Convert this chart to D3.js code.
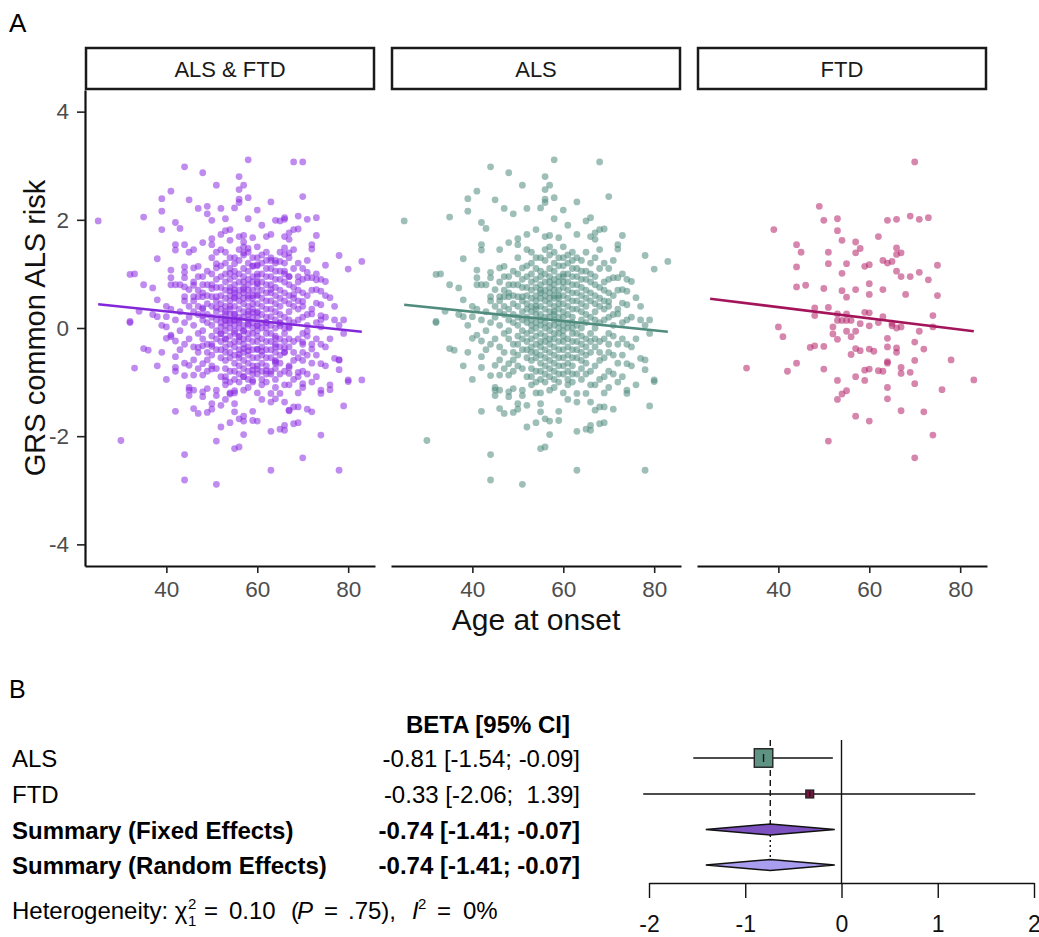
<!DOCTYPE html>
<html>
<head>
<meta charset="utf-8">
<script src="https://cdn.jsdelivr.net/npm/d3@7"></script>
<style>
body { margin: 0; background: #fff; }
svg text { font-family: "Liberation Sans", Arial, sans-serif; }
</style>
</head>
<body>
<svg width="1039" height="937"></svg>
<script>
// panel A: facets
const panelNames = ["ALS & FTD", "ALS", "FTD"]
const pointColors = ["#8A2BE2", "#4E8B7D", "#B5236A"]
const lineColors = ["#8228DA", "#4F8C7E", "#A3145A"]
const xTicks = [40, 60, 80]
const yTicks = [-4, -2, 0, 2, 4]
const trendAges = [25, 83]
const trendStart = [0.44, 0.43, 0.54]
const trendEnd = [-0.07, -0.07, -0.06]

// [age at onset, GRS values]
const alsColumns = [
  [25, [1.98]],
  [30, [-2.08]],
  [32, [0.99, 0.12, 0.10]],
  [33, [1.00]],
  [34, [0.31]],
  [35, [2.05, 0.80, -0.38]],
  [36, [-0.41]],
  [37, [0.74, 0.25]],
  [38, [1.28, 0.52, 0.21, -0.70]],
  [39, [2.39, 2.16, -0.45, 0.05]],
  [40, [0.21, -0.19, -0.95, 0.40]],
  [41, [2.53, 1.07, 0.93, 0.80, -0.13, 0.35]],
  [42, [1.95, 1.54, 1.44, 0.80, -0.24, -0.53, -0.73, -1.54, 0.15]],
  [43, [1.84, 0.80, 0.30, -0.05, -0.40]],
  [44, [2.98, 1.03, 0.93, 0.58, 0.50, -0.88, -2.34, -2.81, 0.10, -0.30]],
  [45, [2.37, 0.71, -0.69, -1.15, -1.25, 0.20, 0.40, -0.20, -1.10]],
  [46, [1.45, 1.11, 0.58, 0.50, -0.59, -0.87, -1.15, -1.49, 0.30, 0.05, -0.35, 0.85]],
  [47, [2.21, 1.14, 0.95, 0.58, -0.75, -1.58, 0.25, -0.10, 0.40, -0.45, 0.70]],
  [48, [2.87, 1.58, 0.95, 0.80, 0.58, -0.66, -0.87, -1.18, -1.27, 0.15, -0.20, 0.35, 0.65, -0.05]],
  [49, [2.11, 1.05, 0.80, -0.59, -1.12, -1.56, 0.45, 0.10, -0.30, 0.25, -0.80, 0.60, -0.45]],
  [50, [1.65, 1.54, 1.30, 0.80, 0.58, -0.50, -1.40, -1.50, 0.20, -0.15, 0.40, -0.70, 0.05, -0.30, 1.00]],
  [51, [2.64, 1.11, 0.58, -1.15, -1.25, -2.89, 0.30, -0.40, 0.15, 0.75, -0.05, 0.50, -0.75, 0.90, -0.20]],
  [52, [2.21, 1.73, 1.45, -1.43, -1.83, 0.95, 0.60, 0.35, 0.10, -0.25, -0.55, -0.90, 0.20, 0.45, -0.10, 0.75, -0.40, 1.15]],
  [53, [1.20, 0.85, 0.55, 0.30, 0.05, -0.20, -0.45, -0.75, -1.05, 0.70, 0.15, -0.35, 1.40, -0.60, 0.40, -0.05, 1.00, -0.90]],
  [54, [1.82, -1.75, 1.10, 0.75, 0.50, 0.25, 0.00, -0.30, -0.55, -0.80, -1.20, 0.40, 0.90, -0.15, 0.60, -1.00, 0.10, -0.45, 1.30, 0.35]],
  [55, [2.22, -2.23, -1.40, -1.55, 1.30, 0.95, 0.65, 0.40, 0.15, -0.10, -0.35, -0.65, -0.95, 0.80, 0.25, -0.50, 1.05, -1.20, 0.55, -0.25, 0.05, 0.70, -0.80]],
  [56, [2.80, 2.56, 2.38, 2.32, 1.69, -2.20, -1.68, 1.25, 0.85, 0.60, 0.35, 0.10, -0.15, -0.40, -0.70, -1.00, 0.50, 0.20, -0.25, 1.00, -0.85, 0.70, 0.00, -0.55, 1.45]],
  [57, [2.64, 1.71, -1.97, -1.72, 1.35, 1.10, 0.75, 0.45, 0.20, -0.05, -0.30, -0.60, -0.90, 0.65, 0.05, -0.45, 0.95, -1.15, 0.30, -0.20, 0.55, -0.75, 0.85, 1.50]],
  [58, [3.11, 2.41, 2.02, 1.40, 1.05, 0.80, 0.55, 0.30, 0.05, -0.20, -0.50, -0.80, -1.10, 0.70, 0.40, -0.35, 0.15, -0.65, 0.90, -0.95, 0.60, -0.10, 1.20, 0.25]],
  [59, [1.67, -1.54, -1.71, 1.30, 0.95, 0.70, 0.45, 0.20, -0.10, -0.40, -0.70, -1.00, 0.60, 0.10, -0.25, 0.85, -0.55, 1.15, 0.35, 0.00, -0.85, 0.55]],
  [60, [2.18, 1.50, 1.15, 0.85, 0.60, 0.30, 0.05, -0.25, -0.55, -0.85, -1.20, 0.45, -0.05, 0.75, -0.40, 1.00, 0.20, -0.70, 0.95, -0.15, 1.30]],
  [61, [1.90, -1.32, 1.35, 1.00, 0.70, 0.40, 0.10, -0.20, -0.50, -0.80, 0.55, -0.35, 0.25, 0.85, -0.65, -1.05, 0.00, 1.20, -0.95]],
  [62, [1.40, 1.10, 0.80, 0.50, 0.20, -0.10, -0.40, -0.70, -1.00, 0.65, 0.35, -0.25, 0.00, 0.95, -0.55, 1.25, -0.85, 0.10]],
  [63, [2.33, 1.73, -1.37, -1.21, -1.91, -2.63, 1.30, 0.95, 0.65, 0.35, 0.05, -0.25, -0.55, -0.85, 0.50, -0.40, 0.80, -0.10, 1.10]],
  [64, [1.25, 0.90, 0.60, 0.30, 0.00, -0.30, -0.60, -0.95, 0.45, -0.15, 0.75, -0.75, 1.05, -0.45, 0.15]],
  [65, [1.98, -1.21, -1.87, 1.40, 1.05, 0.70, 0.40, 0.10, -0.20, -0.50, -0.85, 0.55, -0.35, 0.90, -0.65, 0.25]],
  [66, [2.04, 1.69, -1.37, -1.89, -1.80, 1.20, 0.85, 0.50, 0.20, -0.10, -0.45, -0.80, 0.65, -0.25, 1.00, -1.05]],
  [67, [1.76, 1.64, -1.52, 1.30, 0.95, 0.60, 0.30, 0.00, -0.35, -0.70, -1.05, 0.45, 0.80, -0.20, 0.15]],
  [68, [3.07, 1.82, -1.46, -1.77, 1.45, 1.10, 0.75, 0.40, 0.10, -0.25, -0.60, -0.95, 0.55, -0.45]],
  [69, [1.83, -1.46, -1.75, 1.20, 0.85, 0.50, 0.15, -0.20, -0.55, -0.90, 0.35, 0.70, -1.20]],
  [70, [2.43, 0.65, 0.49, 0.40, 1.10, 0.20, -0.10, -0.45, -0.80, -1.10, 0.90, -0.30]],
  [71, [-1.50, 0.93, 0.60, 0.25, -0.15, -0.50, -0.85, 1.25, 0.05]],
  [72, [1.54, 1.46, 0.93, 0.35, 0.26, -0.30, -0.65, -1.00, 0.70]],
  [73, [1.71, 0.71, 0.46, -0.50, -0.90, 0.10, -0.20, 1.00]],
  [74, [0.68, 0.43, -0.66, -1.21, -1.15, 0.15, -0.30, 0.90]],
  [75, [0.86, -0.35, 0.20, -0.70]],
  [76, [0.56, -1.05, -0.20]],
  [77, [0.15, -0.56, 0.40]],
  [78, [1.34, -0.59, -0.77, -2.63, 0.05]],
  [79, [0.15, -1.44, -0.10]],
  [80, [1.09, -0.99, -0.96]],
  [83, [1.23]]
]

const ftdColumns = [
  [33, [-0.74]],
  [39, [1.82]],
  [40, [0.02]],
  [41, [-0.16]],
  [42, [-0.80]],
  [44, [1.54, 1.13, 0.76, -0.65]],
  [45, [1.40]],
  [46, [0.79]],
  [47, [-0.36]],
  [48, [0.37, 0.23, -0.33]],
  [49, [2.25]],
  [50, [1.99, 0.73, -0.34, -0.76]],
  [51, [1.40, 1.19, 0.38, -2.09]],
  [52, [0.02, -0.11]],
  [53, [2.02, 1.80, 0.26, 0.14, -0.21, -0.97, -1.32]],
  [54, [1.62, 1.01, 0.69, 0.14, -1.22]],
  [55, [1.19, 0.57, 0.26, 0.14, -0.06, -1.16]],
  [56, [0.14, -0.16, -0.49]],
  [57, [1.59, 1.39, 0.71, -0.06, -0.38, -0.90, -1.63]],
  [58, [1.47, 0.08, -0.42]],
  [59, [1.14, 0.29, -0.78, -0.97]],
  [60, [1.17, 0.82, 0.62, 0.28, 0.04, -0.39, -0.76, -1.72]],
  [61, [-0.43]],
  [62, [1.69, 0.10, -0.79]],
  [63, [1.25, 0.71, 0.21, -0.80]],
  [64, [1.99, 1.20, -0.19, -0.35, -0.62, -0.65, -1.10, -1.31]],
  [65, [1.23, 0.09, 0.04]],
  [66, [2.01, 1.48, 1.36, 1.05, 0.00, -0.37, -0.45]],
  [67, [1.39, 0.95, 0.02, -0.73, -0.84, -1.53]],
  [68, [0.62]],
  [69, [2.07, 0.95, -0.82]],
  [70, [3.07, -0.26, -0.60, -1.03, -2.40]],
  [71, [2.01, 1.03, -0.06]],
  [72, [-0.39, -1.55]],
  [73, [2.04, 0.89]],
  [74, [0.23, 0.02, -1.98]],
  [75, [1.16, 0.60]],
  [76, [-1.14]],
  [78, [-0.59]],
  [83, [-0.96]]
]

// panel B: forest plot
const studies = ["ALS", "FTD"]
const beta = [-0.81, -0.33]
const ciLow = [-1.54, -2.06]
const ciHigh = [-0.09, 1.39]
const summaryLabels = ["Summary (Fixed Effects)", "Summary (Random Effects)"]
const summaryBeta = [-0.74, -0.74]
const summaryLow = [-1.41, -1.41]
const summaryHigh = [-0.07, -0.07]
const forestTicks = [-2, -1, 0, 1, 2]
const hetChi = 0.10
const hetP = ".75"
const hetI2 = "0%"

const studyFill = ["#5E9384", "#7A1443"]
const diamondFill = ["#7D52C0", "#A99DEF"]

const svg = d3.select("svg")

const toPoints = cols => cols.flatMap(([age, vals]) => vals.map(v => ({ age: age, grs: v })))
const alsPoints = toPoints(alsColumns)
const ftdPoints = toPoints(ftdColumns)
const panelData = [alsPoints.concat(ftdPoints), alsPoints, ftdPoints]

const panelLeft = [85, 391, 697]
const panelWidth = 290
const panelTop = 90
const panelBottom = 566

const yScale = d3.scaleLinear()
    .domain([-4.4, 4.4])
    .range([panelBottom, panelTop])

const fmtTick = d => String(d)

panelNames.forEach((name, i) => {
    const x = d3.scaleLinear()
        .domain([22.1, 85.9])
        .range([panelLeft[i], panelLeft[i] + panelWidth])

    // strip
    svg.append("rect")
        .attr("x", panelLeft[i] + 1)
        .attr("y", 48)
        .attr("width", panelWidth - 2)
        .attr("height", 41)
        .attr("fill", "#fff")
        .attr("stroke", "#1a1a1a")
        .attr("stroke-width", 2.5)

    svg.append("text")
        .attr("x", panelLeft[i] + panelWidth / 2)
        .attr("y", 77)
        .attr("text-anchor", "middle")
        .attr("font-size", 22)
        .attr("fill", "#1a1a1a")
        .text(name)

    // points
    svg.append("g")
        .selectAll("circle")
        .data(panelData[i])
        .enter()
        .append("circle")
        .attr("cx", d => x(d.age))
        .attr("cy", d => yScale(d.grs))
        .attr("r", 3.4)
        .attr("fill", pointColors[i])
        .attr("fill-opacity", 0.55)

    // fitted line
    svg.append("line")
        .attr("x1", x(trendAges[0]))
        .attr("y1", yScale(trendStart[i]))
        .attr("x2", x(trendAges[1]))
        .attr("y2", yScale(trendEnd[i]))
        .attr("stroke", lineColors[i])
        .attr("stroke-width", 2.6)

    const xAxis = svg.append("g")
        .attr("transform", `translate(0, ${panelBottom})`)
        .call(d3.axisBottom(x).tickValues(xTicks).tickFormat(fmtTick).tickSize(7).tickSizeOuter(0).tickPadding(8))
    xAxis.select(".domain").attr("stroke", "#111").attr("stroke-width", 2.2)
    xAxis.selectAll(".tick line").attr("stroke", "#222").attr("stroke-width", 1.6)
    xAxis.selectAll(".tick text")
        .attr("font-size", 22.5)
        .attr("font-family", "Liberation Sans, Arial, sans-serif")
        .attr("fill", "#4d4d4d")
})

const yAxis = svg.append("g")
    .attr("transform", `translate(${panelLeft[0]}, 0)`)
    .call(d3.axisLeft(yScale).tickValues(yTicks).tickFormat(fmtTick).tickSize(8).tickSizeOuter(0).tickPadding(8))
yAxis.select(".domain").attr("stroke", "#111").attr("stroke-width", 2.2)
yAxis.selectAll(".tick line").attr("stroke", "#222").attr("stroke-width", 1.6)
yAxis.selectAll(".tick text")
    .attr("font-size", 22.5)
    .attr("font-family", "Liberation Sans, Arial, sans-serif")
    .attr("fill", "#4d4d4d")

svg.append("text")
    .attr("transform", `translate(45, ${(panelTop + panelBottom) / 2}) rotate(-90)`)
    .attr("text-anchor", "middle")
    .attr("font-size", 29)
    .attr("fill", "#111")
    .text("GRS common ALS risk")

svg.append("text")
    .attr("x", panelLeft[1] + panelWidth / 2)
    .attr("y", 630)
    .attr("text-anchor", "middle")
    .attr("font-size", 30)
    .attr("fill", "#111")
    .text("Age at onset")

svg.append("text").attr("x", 9).attr("y", 32).attr("font-size", 26).text("A")
svg.append("text").attr("x", 9).attr("y", 698).attr("font-size", 25).text("B")

// ---- forest plot ----
const fx = d3.scaleLinear()
    .domain([-2, 2])
    .range([649, 1034])

const rowY = [758, 794, 829.5, 865]
const textDy = 9
const forestFont = 24
const fmt = v => v.toFixed(2)
const pad = v => (v >= 0 ? " " : "") + fmt(v)

svg.append("text")
    .attr("x", 488)
    .attr("y", 733)
    .attr("text-anchor", "middle")
    .attr("font-size", forestFont)
    .attr("font-weight", "bold")
    .text("BETA [95% CI]")

studies.forEach((s, i) => {
    svg.append("text")
        .attr("x", 12)
        .attr("y", rowY[i] + textDy)
        .attr("font-size", forestFont)
        .text(s)
    svg.append("text")
        .attr("x", 580)
        .attr("y", rowY[i] + textDy)
        .attr("text-anchor", "end")
        .attr("font-size", forestFont)
        .style("white-space", "pre")
        .text(`${fmt(beta[i])} [${fmt(ciLow[i])}; ${pad(ciHigh[i])}]`)
})

summaryLabels.forEach((s, i) => {
    svg.append("text")
        .attr("x", 12)
        .attr("y", rowY[i + 2] + textDy)
        .attr("font-size", forestFont)
        .attr("font-weight", "bold")
        .text(s)
    svg.append("text")
        .attr("x", 580)
        .attr("y", rowY[i + 2] + textDy)
        .attr("text-anchor", "end")
        .attr("font-size", forestFont)
        .attr("font-weight", "bold")
        .style("white-space", "pre")
        .text(`${fmt(summaryBeta[i])} [${fmt(summaryLow[i])}; ${pad(summaryHigh[i])}]`)
})

// heterogeneity line, spaced like R plotmath
const hetY = 919
const het = svg.append("text")
    .attr("y", hetY)
    .attr("font-size", forestFont)
het.append("tspan").attr("x", 12).text("Heterogeneity: χ")
het.append("tspan").attr("x", 188).attr("y", hetY - 10).attr("font-size", 15).text("2")
het.append("tspan").attr("x", 188).attr("y", hetY + 7).attr("font-size", 15).text("1")
het.append("tspan").attr("x", 204).attr("y", hetY).text("=")
het.append("tspan").attr("x", 229).text(fmt(hetChi))
het.append("tspan").attr("x", 291).text("(")
het.append("tspan").attr("x", 297).style("font-style", "italic").text("P")
het.append("tspan").attr("x", 324).text("=")
het.append("tspan").attr("x", 348).text(hetP + "),")
het.append("tspan").attr("x", 412).style("font-style", "italic").text("I")
het.append("tspan").attr("x", 418).attr("y", hetY - 10).attr("font-size", 15).text("2")
het.append("tspan").attr("x", 437).attr("y", hetY).text("=")
het.append("tspan").attr("x", 463).text(hetI2)

// reference lines
svg.append("line")
    .attr("x1", fx(0)).attr("x2", fx(0))
    .attr("y1", 740).attr("y2", 883)
    .attr("stroke", "#111").attr("stroke-width", 1.4)

svg.append("line")
    .attr("x1", fx(summaryBeta[0])).attr("x2", fx(summaryBeta[0]))
    .attr("y1", 740).attr("y2", rowY[2] - 5.5)
    .attr("stroke", "#111").attr("stroke-width", 1.4)
    .attr("stroke-dasharray", "6,4")

svg.append("line")
    .attr("x1", fx(summaryBeta[1])).attr("x2", fx(summaryBeta[1]))
    .attr("y1", rowY[2] + 5.5).attr("y2", rowY[3] - 5.5)
    .attr("stroke", "#111").attr("stroke-width", 1.4)
    .attr("stroke-dasharray", "2,3")

// study CIs and boxes (box area ~ inverse variance weight)
const weight = studies.map((s, i) => 1 / Math.pow((ciHigh[i] - ciLow[i]) / 3.92, 2))
const boxSize = d3.scaleSqrt()
    .domain([0, d3.max(weight)])
    .range([0, 18.5])

studies.forEach((s, i) => {
    svg.append("line")
        .attr("x1", fx(ciLow[i])).attr("x2", fx(ciHigh[i]))
        .attr("y1", rowY[i]).attr("y2", rowY[i])
        .attr("stroke", "#111").attr("stroke-width", 1.4)
    const b = boxSize(weight[i])
    svg.append("rect")
        .attr("x", fx(beta[i]) - b / 2)
        .attr("y", rowY[i] - b / 2)
        .attr("width", b)
        .attr("height", b)
        .attr("fill", studyFill[i])
        .attr("stroke", "#222")
        .attr("stroke-width", 1.4)
    svg.append("line")
        .attr("x1", fx(beta[i])).attr("x2", fx(beta[i]))
        .attr("y1", rowY[i] - Math.min(4, b / 3)).attr("y2", rowY[i] + Math.min(4, b / 3))
        .attr("stroke", "#111").attr("stroke-width", 1.4)
})

summaryLabels.forEach((s, i) => {
    const cy = rowY[i + 2]
    const pts = [
        [fx(summaryLow[i]), cy],
        [fx(summaryBeta[i]), cy - 5.5],
        [fx(summaryHigh[i]), cy],
        [fx(summaryBeta[i]), cy + 5.5]
    ]
    svg.append("path")
        .attr("d", d3.line()(pts) + "Z")
        .attr("fill", diamondFill[i])
        .attr("stroke", "#111")
        .attr("stroke-width", 1.4)
})

const fAxis = svg.append("g")
    .attr("transform", "translate(0, 883)")
    .call(d3.axisBottom(fx).tickValues(forestTicks).tickFormat(fmtTick).tickSize(15).tickSizeOuter(0).tickPadding(18))
fAxis.select(".domain").attr("stroke", "#111").attr("stroke-width", 1.4)
fAxis.selectAll(".tick line").attr("stroke", "#111").attr("stroke-width", 1.4)
fAxis.selectAll(".tick text")
    .attr("font-size", 23)
    .attr("font-family", "Liberation Sans, Arial, sans-serif")
    .attr("fill", "#111")
</script>
</body>
</html>
